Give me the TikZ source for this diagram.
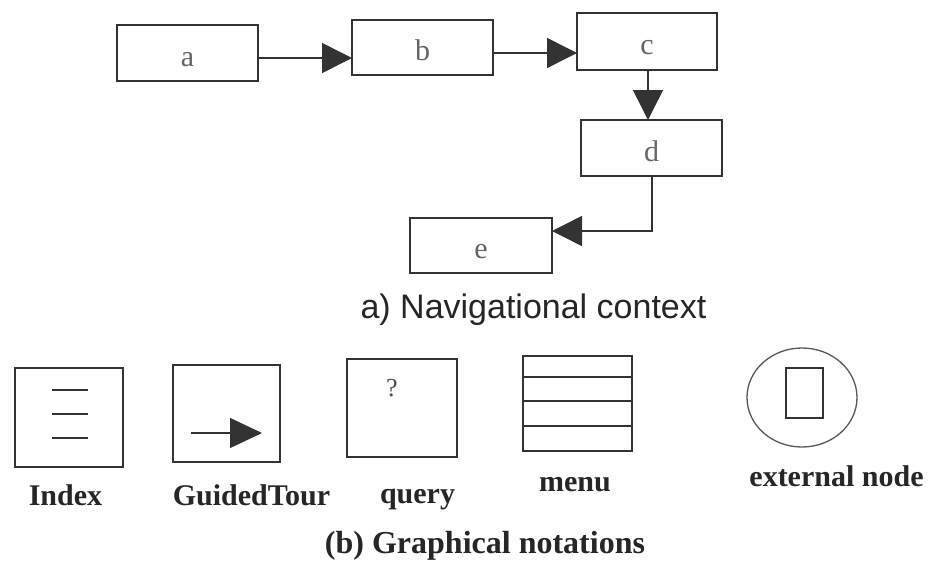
\documentclass[tikz,border=0pt]{standalone}
\usepackage{fontspec}
\setmainfont{Liberation Serif}
\newfontfamily\capsans{Liberation Sans}
\usetikzlibrary{arrows.meta,shapes.geometric}
\tikzset{
  ink/.style={draw=black!80, line width=1.5pt},
  navbox/.style={ink, rectangle, inner sep=0pt, outer sep=0pt, fill=white,
    text height=30pt, text depth=4pt,
    font=\fontsize{30}{34}\selectfont, text=black!60},
  notebox/.style={ink, rectangle, inner sep=0pt, outer sep=0pt},
  bighead/.style={ink, -{Triangle[length=30pt,width=30pt]}},
  notelabel/.style={anchor=base, inner sep=0pt, text=black!85,
    font=\bfseries\fontsize{30}{36}\selectfont},
}
\begin{document}
\begin{tikzpicture}[x=1pt,y=-1pt]
  \useasboundingbox[fill=white] (0,0) rectangle (930,571);

  % ---- navigational context ----
  \node[navbox, minimum width=141pt, minimum height=56pt] (a) at (187.5,53)  {a};
  \node[navbox, minimum width=141pt, minimum height=55pt] (b) at (422.5,47.5) {b};
  \node[navbox, minimum width=140pt, minimum height=57pt] (c) at (647,41.5)  {c};
  \node[navbox, minimum width=141pt, minimum height=56pt] (d) at (651.5,148) {d};
  \node[navbox, minimum width=142pt, minimum height=55pt] (e) at (481,245.5) {e};

  \coordinate (ab) at (0,58);
  \coordinate (bc) at (0,53);
  \coordinate (cd) at (648,0);
  \coordinate (de) at (652,231);

  \draw[bighead] (a.east |- ab) -- (b.west |- ab);
  \draw[bighead] (b.east |- bc) -- (c.west |- bc);
  \draw[bighead] (c.south -| cd) -- (d.north -| cd);
  \draw[bighead] (d.south -| de) -- (de) -- (e.east |- de);

  \node[anchor=base, inner sep=0pt, text=black!85,
        font=\capsans\fontsize{34}{40}\selectfont] (capa) at (533.5,318)
        {a) Navigational context};

  % ---- graphical notations ----
  % index
  \node[notebox, minimum width=108pt, minimum height=99pt] (index) at (69,417.5) {};
  \draw[ink, line width=1.3pt] (52,390) -- (88,390);
  \draw[ink, line width=1.3pt] (52,414) -- (88,414);
  \draw[ink, line width=1.3pt] (52,438) -- (88,438);
  \node[notelabel] (indexlbl) at (65.5,505) {Index};

  % guided tour
  \node[notebox, minimum width=107pt, minimum height=97pt] (tour) at (226.5,413.5) {};
  \draw[ink, line width=1.3pt, -{Triangle[length=32pt,width=30pt]}] (191,433) -- (262,433);
  \node[notelabel] (tourlbl) at (251.5,505) {GuidedTour};

  % query
  \node[notebox, minimum width=110pt, minimum height=98pt] (query) at (402,408) {};
  \node[font=\fontsize{26}{30}\selectfont, text=black!70, inner sep=0pt] (qmark) at (392,388) {?};
  \node[notelabel] (querylbl) at (417.5,503) {query};

  % menu
  \node[notebox, minimum width=109pt, minimum height=95pt] (menu) at (577.5,403.5) {};
  \draw[ink, line width=1.3pt] (523,377) -- (632,377);
  \draw[ink, line width=1.3pt] (523,401) -- (632,401);
  \draw[ink, line width=1.3pt] (523,426) -- (632,426);
  \node[notelabel] (menulbl) at (575,491) {menu};

  % external node
  \node[draw=black!65, line width=1.3pt, ellipse, inner sep=0pt,
        minimum width=110pt, minimum height=99pt] (ext) at (802,397.5) {};
  \node[notebox, minimum width=37pt, minimum height=50pt] (extdoc) at (804.5,393) {};
  \node[notelabel] (extlbl) at (836.5,486) {external node};

  \node[anchor=base, inner sep=0pt, text=black!85,
        font=\bfseries\fontsize{32}{38}\selectfont] (capb) at (485,553)
        {(b) Graphical notations};
\end{tikzpicture}
\end{document}
